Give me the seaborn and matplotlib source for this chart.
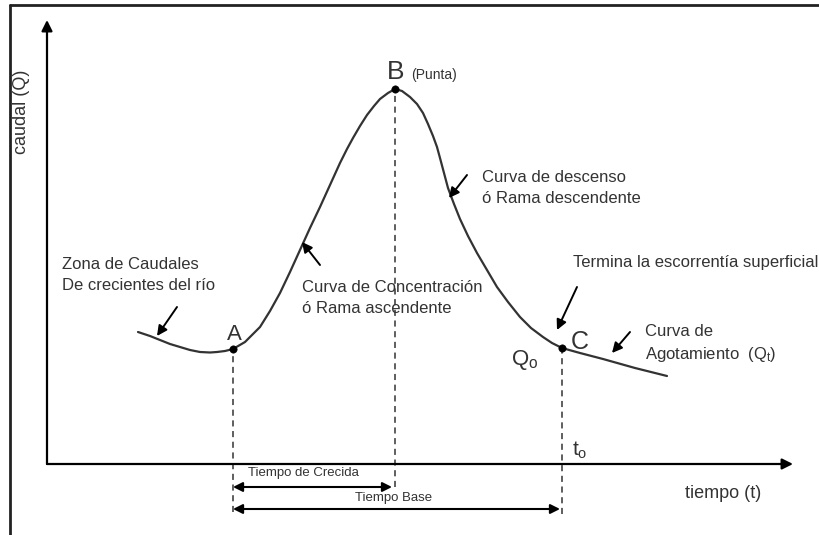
import matplotlib
matplotlib.use("Agg")
import matplotlib.pyplot as plt
import seaborn as sns
import pandas as pd

# hidrograma: tiempo / caudal (unidades arbitrarias)
tiempo = [91, 103, 113, 123, 133, 143, 153, 163, 170, 178, 186, 198, 213, 223, 233,
          243, 253, 263, 273, 283, 293, 300, 306, 313, 320, 327, 333, 341, 348, 355,
          363, 370, 376, 381, 386, 390, 393, 397, 401, 407, 413, 421, 430, 440, 450,
          461, 473, 484, 496, 505, 515, 533, 556, 588, 620]
caudal = [132, 128, 124, 120, 117, 114, 112, 111.5, 112, 113, 115, 122, 137, 153, 171,
          192, 214, 236, 257, 279, 301, 315, 326, 338, 349, 358, 365, 371, 375, 373,
          367, 360, 351, 340, 328, 317, 306, 291, 276, 260, 245, 228, 211, 194, 177,
          162, 147, 136, 127, 121, 116, 111, 105, 96, 88]

puntos = ["A", "B", "C"]
t_puntos = [186, 348, 515]
q_puntos = [115, 375, 116]

df = pd.DataFrame({"t": tiempo, "Q": caudal})
pts = pd.DataFrame({"nombre": puntos, "t": t_puntos, "Q": q_puntos})

sns.set_theme(style="white")
plt.rcParams["font.family"] = ["Liberation Sans", "DejaVu Sans"]
plt.rcParams["mathtext.default"] = "regular"

fig = plt.figure(figsize=(8.2, 5.35), dpi=100)
ax = fig.add_axes([0, 0, 1, 1])
ax.set_xlim(-47, 773)
ax.set_ylim(-71, 464)
ax.axis("off")

txt = "#333333"

# marco
fig.add_artist(plt.Line2D([10 / 820, 10 / 820], [0, 1 - 5 / 535], color="#222222", lw=2))
fig.add_artist(plt.Line2D([10 / 820, 1], [1 - 5 / 535, 1 - 5 / 535], color="#222222", lw=2))

# ejes con flecha
arr = dict(arrowstyle="-|>", color="black", lw=1.6, mutation_scale=16, shrinkA=0, shrinkB=0)
ax.annotate("", xy=(0, 444), xytext=(0, 0), arrowprops=arr)
ax.annotate("", xy=(746, 0), xytext=(0, 0), arrowprops=arr)

# curva y puntos
sns.lineplot(data=df, x="t", y="Q", sort=False, estimator=None, color="#333333", lw=1.6, ax=ax)
sns.scatterplot(data=pts, x="t", y="Q", color="black", s=28, edgecolor="black", zorder=5, ax=ax)

# lineas verticales punteadas
dash = (0, (4, 3))
ax.vlines(t_puntos[0], -48, q_puntos[0], colors="#333333", linestyles=dash, lw=1.1)
ax.vlines(t_puntos[1], -23, q_puntos[1], colors="#333333", linestyles=dash, lw=1.1)
ax.vlines(t_puntos[2], -50, q_puntos[2], colors="#333333", linestyles=dash, lw=1.1)

# tiempos
dbl = dict(arrowstyle="<|-|>", color="black", lw=1.5, mutation_scale=14, shrinkA=0, shrinkB=0)
ax.annotate("", xy=(t_puntos[1] - 3, -23), xytext=(t_puntos[0], -23), arrowprops=dbl)
ax.annotate("", xy=(t_puntos[2] - 2, -45), xytext=(t_puntos[0], -45), arrowprops=dbl)
ax.text(256, -9, "Tiempo de Crecida", fontsize=9.5, color=txt, ha="center", va="center")
ax.text(347, -34, "Tiempo Base", fontsize=9.5, color=txt, ha="center", va="center")

# etiquetas de puntos
ax.text(349, 392, "B", fontsize=19, color=txt, ha="center", va="center")
ax.text(364, 389, "(Punta)", fontsize=10, color=txt, ha="left", va="center")
ax.text(187, 129, "A", fontsize=16, color=txt, ha="center", va="center")
ax.text(533, 122, "C", fontsize=18, color=txt, ha="center", va="center")
ax.text(478, 104, "Q$_o$", fontsize=16, color=txt, ha="center", va="center")
ax.text(533, 14, "t$_o$", fontsize=15, color=txt, ha="center", va="center")

# titulos de ejes
ax.text(676, -29, "tiempo (t)", fontsize=13, color=txt, ha="center", va="center")
ax.text(-25, 352, "caudal (Q)", fontsize=13, color=txt, ha="center", va="center", rotation=90)

# anotaciones
small = dict(arrowstyle="-|>", color="black", lw=1.4, mutation_scale=15, shrinkA=0, shrinkB=0)
ax.text(15, 189, "Zona de Caudales\nDe crecientes del río", fontsize=12, color=txt,
        ha="left", va="center", linespacing=1.5)
ax.annotate("", xy=(110, 128), xytext=(130, 157), arrowprops=small)

ax.text(255, 166, "Curva de Concentración\nó Rama ascendente", fontsize=12, color=txt,
        ha="left", va="center", linespacing=1.5)
ax.annotate("", xy=(255, 222), xytext=(273, 199), arrowprops=small)

ax.text(435, 276, "Curva de descenso\nó Rama descendente", fontsize=12, color=txt,
        ha="left", va="center", linespacing=1.5)
ax.annotate("", xy=(402, 266), xytext=(420, 289), arrowprops=small)

ax.text(526, 202, "Termina la escorrentía superficial", fontsize=12, color=txt,
        ha="left", va="center")
ax.annotate("", xy=(510, 134), xytext=(530, 177), arrowprops=small)

ax.text(598, 120, "Curva de\nAgotamiento  (Q$_t$)", fontsize=12, color=txt,
        ha="left", va="center", linespacing=1.5)
ax.annotate("", xy=(565, 111), xytext=(583, 132), arrowprops=small)

fig.savefig("out.png", dpi=100)
